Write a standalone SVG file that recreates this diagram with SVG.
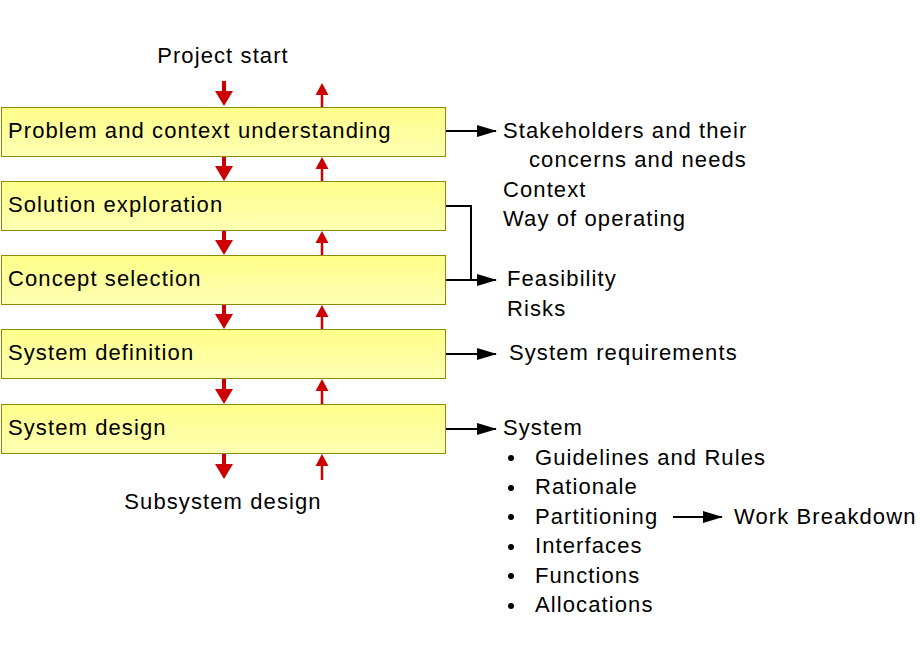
<svg xmlns="http://www.w3.org/2000/svg" width="920" height="660" viewBox="0 0 920 660">
<defs>
<linearGradient id="g" x1="0" y1="0" x2="0" y2="1">
<stop offset="0" stop-color="#FFFF8A"/>
<stop offset="1" stop-color="#FFFFB4"/>
</linearGradient>
<marker id="bk" markerWidth="20" markerHeight="12" refX="19" refY="6" orient="auto" markerUnits="userSpaceOnUse">
<path d="M0,0 L20,6 L0,12 Z" fill="#000"/>
</marker>
</defs>
<style>
text{font-family:"Liberation Sans",Arial,sans-serif;font-size:22px;letter-spacing:1.1px;fill:#000}
.box{fill:url(#g);stroke:#8B8B00;stroke-width:1}
.con{stroke:#000;stroke-width:2;fill:none}
#red{fill:#CC0000}
</style>
<rect width="920" height="660" fill="#fff"/>
<text x="223" y="63" text-anchor="middle">Project start</text>
<text x="223" y="509" text-anchor="middle">Subsystem design</text>
<g id="n1"><rect class="box" x="1.5" y="107.5" width="444" height="49"/><text x="8" y="138">Problem and context understanding</text></g>
<g id="n2"><rect class="box" x="1.5" y="181.5" width="444" height="49"/><text x="8" y="212">Solution exploration</text></g>
<g id="n3"><rect class="box" x="1.5" y="255.5" width="444" height="49"/><text x="8" y="286">Concept selection</text></g>
<g id="n4"><rect class="box" x="1.5" y="329.5" width="444" height="49"/><text x="8" y="360">System definition</text></g>
<g id="n5"><rect class="box" x="1.5" y="404.5" width="444" height="49"/><text x="8" y="435">System design</text></g>
<g id="red">
<path d="M222,81 h4 v10 h7 l-9,15 l-9,-15 h7 z"/>
<path d="M222,157 h4 v9 h7 l-9,15 l-9,-15 h7 z"/>
<path d="M222,231 h4 v9 h7 l-9,15 l-9,-15 h7 z"/>
<path d="M222,305 h4 v9 h7 l-9,15 l-9,-15 h7 z"/>
<path d="M222,379 h4 v10 h7 l-9,15 l-9,-15 h7 z"/>
<path d="M222,454 h4 v10 h7 l-9,15 l-9,-15 h7 z"/>
<path d="M320.75,107 h2.5 v-12 h5.25 l-6.5,-12 l-6.5,12 h5.25 z"/>
<path d="M320.75,181 h2.5 v-12 h5.25 l-6.5,-12 l-6.5,12 h5.25 z"/>
<path d="M320.75,255 h2.5 v-12 h5.25 l-6.5,-12 l-6.5,12 h5.25 z"/>
<path d="M320.75,329 h2.5 v-12 h5.25 l-6.5,-12 l-6.5,12 h5.25 z"/>
<path d="M320.75,404 h2.5 v-13 h5.25 l-6.5,-12 l-6.5,12 h5.25 z"/>
<path d="M320.75,480 h2.5 v-14 h5.25 l-6.5,-12 l-6.5,12 h5.25 z"/>
</g>
<g id="connectors">
<path class="con" d="M446,131 H496" marker-end="url(#bk)"/>
<path class="con" d="M446,206 H471 V280"/>
<path class="con" d="M446,280 H496" marker-end="url(#bk)"/>
<path class="con" d="M446,354 H496" marker-end="url(#bk)"/>
<path class="con" d="M446,429 H496" marker-end="url(#bk)"/>
<path class="con" d="M673,517 H722" marker-end="url(#bk)"/>
</g>
<g id="outputs">
<text x="503" y="138">Stakeholders and their</text>
<text x="529" y="167">concerns and needs</text>
<text x="503" y="197">Context</text>
<text x="503" y="226">Way of operating</text>
<text x="507" y="286">Feasibility</text>
<text x="507" y="316">Risks</text>
<text x="509" y="360">System requirements</text>
<text x="503" y="435">System</text>
<g fill="#000">
<circle cx="511" cy="458" r="3"/>
<circle cx="511" cy="488" r="3"/>
<circle cx="511" cy="517" r="3"/>
<circle cx="511" cy="547" r="3"/>
<circle cx="511" cy="576" r="3"/>
<circle cx="511" cy="606" r="3"/>
</g>
<text x="535" y="465">Guidelines and Rules</text>
<text x="535" y="494">Rationale</text>
<text x="535" y="524">Partitioning</text>
<text x="535" y="553">Interfaces</text>
<text x="535" y="583">Functions</text>
<text x="535" y="612">Allocations</text>
<text x="734" y="524">Work Breakdown</text>
</g>
</svg>
